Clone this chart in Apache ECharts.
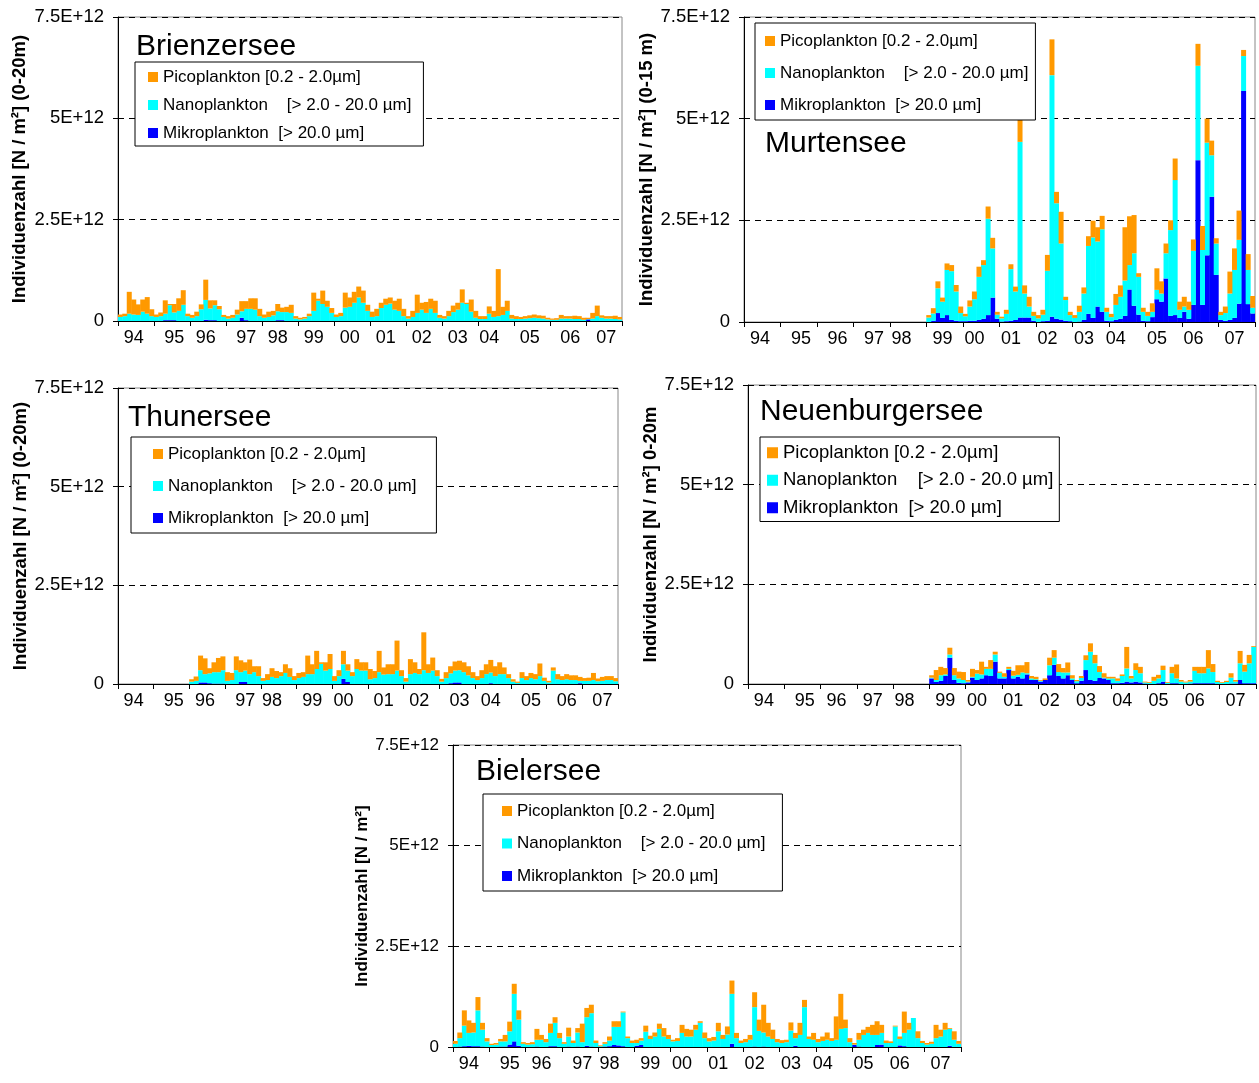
<!DOCTYPE html>
<html>
<head>
<meta charset="utf-8">
<script src="https://cdn.jsdelivr.net/npm/echarts@6/dist/echarts.min.js"></script>
<style>
  html, body { margin: 0; padding: 0; background: #fff; }
  #chart { width: 1259px; height: 1083px; }
</style>
</head>
<body>
<div id="chart"></div>
<script>
// 14 years (94-07), 8 samples per axis division -> 112 bars per lake
const NBARS = 112;
const years = ["94", "95", "96", "97", "98", "99", "00", "01", "02", "03", "04", "05", "06", "07"];

// index of the bar carrying each year label
const brienzYearIdx = [3, 12, 19, 28, 35, 43, 51, 59, 67, 75, 82, 91, 100, 108];
const murtenYearIdx = [3, 12, 20, 28, 34, 43, 50, 58, 66, 74, 81, 90, 98, 107];
const thunYearIdx = [3, 12, 19, 28, 34, 43, 50, 59, 67, 76, 83, 92, 100, 108];
const neuenburgYearIdx = [3, 12, 19, 27, 34, 43, 50, 58, 66, 74, 82, 90, 98, 107];
const bielYearIdx = [3, 12, 19, 28, 34, 43, 50, 58, 66, 74, 81, 90, 98, 107];

// values in 1E+12 N / m2
const brienzPico = [
  .06, .06, .54, .37, .26, .30, .41, .17,
  .06, .09, .33, .03, .21, .31, .36, .06,
  .07, .11, .12, .50, .20, .12, .08, .05,
  .06, .07, .12, .25, .19, .26, .28, .18,
  .08, .13, .11, .18, .11, .13, .20, .06,
  .04, .04, .06, .45, .05, .33, .15, .12,
  .06, .08, .37, .23, .27, .27, .30, .15,
  .13, .18, .13, .15, .15, .22, .30, .18,
  .06, .15, .45, .17, .27, .25, .30, .07,
  .06, .13, .16, .17, .33, .03, .30, .17,
  .07, .07, .18, .15, 1.16, .20, .25, .09,
  .07, .05, .06, .07, .08, .07, .07, .04,
  .03, .04, .09, .06, .06, .08, .07, .05,
  .03, .14, .26, .06, .06, .06, .08, .06
];
const brienzNano = [
  .10, .12, .18, .16, .15, .23, .18, .12,
  .10, .12, .16, .37, .19, .25, .40, .12,
  .08, .12, .29, .49, .29, .37, .29, .10,
  .06, .08, .16, .16, .28, .30, .28, .12,
  .08, .10, .14, .22, .20, .22, .20, .06,
  .04, .06, .12, .25, .50, .42, .35, .20,
  .10, .12, .33, .35, .45, .58, .45, .25,
  .10, .12, .32, .40, .43, .28, .25, .12,
  .06, .10, .20, .28, .20, .30, .20, .08,
  .06, .12, .22, .28, .45, .42, .23, .08,
  .05, .05, .18, .10, .12, .15, .25, .06,
  .05, .05, .06, .07, .08, .07, .06, .04,
  .03, .03, .06, .06, .06, .05, .05, .03,
  .01, .06, .12, .08, .06, .06, .05, .04
];
const brienzMikro = [
  0, 0, 0, 0, 0, 0, 0, 0,
  0, 0, .02, .02, .02, 0, 0, 0,
  0, 0, 0, .03, .02, .02, 0, 0,
  0, 0, 0, .08, .02, 0, 0, 0,
  0, 0, 0, .02, .02, 0, 0, 0,
  0, 0, 0, 0, 0, 0, 0, 0,
  0, 0, 0, 0, 0, 0, 0, 0,
  0, 0, 0, 0, 0, 0, 0, 0,
  0, 0, 0, 0, 0, 0, 0, 0,
  0, 0, 0, 0, 0, 0, 0, 0,
  0, 0, 0, 0, 0, 0, 0, 0,
  0, 0, 0, 0, 0, 0, 0, 0,
  0, 0, 0, 0, 0, 0, 0, 0,
  .04, 0, 0, 0, 0, 0, 0, 0
];

// Murtensee: sampling from 1999 on (bar 40)
const murtenStart = 40;
const murtenPico = [
  .06, .13, .17, .10, .16, .15, .16, .16,
  .06, .15, .19, .25, .12, .30, .26, .07,
  .04, .10, .12, .12, .54, .20, .24, .10,
  .08, .12, .39, .88, .28, .78, .08, .08,
  .07, .15, .15, .24, .41, .35, .33, .10,
  .08, .27, .28, 1.31, 1.20, .94, .09, .10,
  .10, .21, .53, .30, .24, .24, .53, .20,
  .24, .20, .28, .54, .59, .59, .36, .13,
  .08, .16, .54, .53, .72, .15, .39, .29
];
const murtenNano = [
  .11, .18, .61, .40, 1.11, 1.20, .72, .20,
  .12, .35, .53, 1.06, 1.32, 2.37, 1.21, .10,
  .08, .18, 1.27, .70, 4.32, .59, .27, .12,
  .09, .16, 1.23, 5.94, 2.84, 1.87, .51, .15,
  .10, .24, .65, 1.67, 1.98, 1.60, 2.03, .22,
  .10, .37, .54, .87, .60, 1.29, .93, .22,
  .13, .13, .23, .20, .62, 2.11, 3.32, .20,
  .13, .22, 1.33, 2.32, 1.35, 2.77, 1.02, .77,
  .12, .19, .65, 1.18, 1.57, .86, .84, .14
];
const murtenMikro = [
  0, .03, .22, .10, .17, .05, .03, .02,
  .02, .03, .03, .05, .08, .17, .60, .08,
  .01, .02, .03, .05, .11, .11, .11, .03,
  0, .02, .03, .13, .08, .06, .03, .02,
  0, .01, .05, .20, .10, .38, .25, .03,
  .02, .05, .08, .15, .80, .40, .18, .03,
  .02, .12, .56, .50, 1.07, .15, .17, .10,
  .25, .08, .42, 3.98, .42, 1.64, 3.08, 1.16,
  .05, .03, .05, .10, .45, 5.68, .44, .21
];

// Thunersee: sampling from 1996 on (bar 16)
const thunStart = 16;
const thunPico = [
  .06, .11, .37, .40, .13, .25, .36, .35,
  .22, .18, .35, .30, .21, .37, .15, .25,
  .07, .15, .22, .18, .10, .22, .22, .10,
  .13, .12, .47, .25, .46, .04, .21, .38,
  .12, .15, .34, .16, .10, .25, .21, .21,
  .26, .18, .54, .18, .25, .25, .76, .15,
  .09, .38, .27, .13, .96, .22, .33, .15,
  .07, .15, .18, .23, .24, .25, .23, .15,
  .10, .20, .25, .32, .25, .30, .17, .10,
  .06, .03, .15, .10, .13, .13, .32, .08,
  .04, .08, .13, .10, .13, .12, .12, .10,
  .07, .08, .18, .07, .10, .10, .10, .08
];
const thunNano = [
  .06, .08, .31, .21, .25, .29, .29, .34,
  .08, .10, .35, .25, .29, .25, .30, .20,
  .08, .10, .18, .15, .20, .28, .18, .10,
  .15, .18, .25, .25, .38, .51, .34, .38,
  .08, .20, .37, .29, .20, .38, .34, .34,
  .12, .15, .30, .24, .25, .25, .34, .20,
  .06, .25, .28, .25, .35, .28, .34, .20,
  .06, .15, .25, .30, .31, .30, .22, .15,
  .10, .15, .25, .27, .20, .25, .25, .15,
  .06, .03, .15, .10, .15, .12, .20, .08,
  .04, .34, .12, .10, .12, .10, .10, .06,
  .08, .08, .10, .07, .08, .10, .10, .07
];
const thunMikro = [
  0, 0, .04, .04, .02, .01, .01, .01,
  0, 0, 0, .05, .05, 0, 0, 0,
  0, 0, 0, 0, 0, 0, 0, 0,
  0, 0, 0, 0, 0, 0, 0, 0,
  0, 0, .13, .05, 0, 0, 0, 0,
  0, 0, 0, 0, 0, 0, 0, 0,
  0, 0, 0, 0, 0, 0, 0, 0,
  0, 0, .02, .04, .04, 0, 0, 0,
  0, 0, 0, .02, 0, 0, 0, 0,
  0, 0, 0, 0, 0, 0, 0, 0,
  0, 0, 0, 0, 0, 0, 0, .02,
  0, 0, 0, 0, 0, 0, 0, 0
];

// Neuenburgersee: sampling from 1999 on (bar 40)
const neuenburgStart = 40;
const neuenburgPico = [
  .06, .25, .21, .16, .17, .18, .17, .20,
  .04, .20, .09, .32, .05, .22, .07, .03,
  .09, .05, .12, .24, .18, .28, .06, .06,
  .02, .04, .19, .19, .20, .11, .25, .08,
  .03, .05, .12, .21, .21, .15, .11, .04,
  .04, .06, .04, .54, .06, .17, .16, .02,
  .02, .10, .09, .11, .02, .16, .35, .04,
  .02, .04, .10, .16, .16, .46, .20, .03,
  .02, .03, .11, .04, .31, .17, .21, .02
];
const neuenburgNano = [
  .02, .05, .14, .04, .08, .12, .11, .08,
  .02, .02, .16, .10, .16, .18, .18, .14,
  .04, .03, .07, .05, .15, .03, .04, .02,
  .02, 0, .25, .18, .10, .15, .07, .04,
  .05, .07, .25, .71, .44, .15, .02, .04,
  .12, .06, .17, .33, .10, .29, .23, .03,
  .03, .08, .12, .29, .03, .25, .12, .06,
  .04, .05, .31, .25, .25, .37, .28, .05,
  .03, .05, .15, .05, .42, .29, .50, .91
];
const neuenburgMikro = [
  .14, .05, .08, .20, .66, .10, .03, .02,
  .04, .16, .10, .14, .22, .20, .56, .14,
  .14, .35, .14, .18, .14, .24, .10, .10,
  .06, .10, .22, .48, .20, .14, .22, .10,
  .02, .08, .35, .10, .08, .15, .14, .10,
  .02, .02, .03, .06, .04, .06, .04, .01,
  0, 0, .02, .06, 0, .02, .02, 0,
  0, .01, .02, .02, .02, .02, .02, 0,
  0, 0, .01, .01, .10, .02, .02, .02
];

const bielPico = [
  .07, .14, .38, .31, .24, .33, .17, .08,
  .03, .04, .06, .16, .24, .25, .23, .04,
  .04, .05, .27, .12, .08, .23, .14, .13,
  .04, .22, .06, .11, .46, .23, .21, .06,
  .02, .04, .10, .14, .14, .02, .04, .06,
  .08, .06, .15, .08, .10, .13, .21, .10,
  .04, .07, .20, .19, .17, .12, .04, .14,
  .08, .09, .21, .10, .20, .33, .13, .06,
  .08, .12, .37, .28, .69, .34, .23, .08,
  .07, .06, .20, .13, .30, .18, .06, .17,
  .08, .11, .18, .07, .58, .87, .21, .10,
  .04, .17, .13, .15, .25, .34, .20, .06,
  .04, .02, .06, .53, .17, 0, .17, .05,
  .04, .05, .33, .17, .17, .02, .21, .07
];
const bielNano = [
  .08, .21, .51, .32, .34, .89, .42, .14,
  .05, .06, .13, .13, .33, 1.18, .65, .08,
  .06, .07, .17, .18, .12, .33, .58, .22,
  .08, .25, .10, .35, .12, .71, .83, .10,
  .02, .07, .14, .45, .46, .84, .22, .10,
  .07, .11, .38, .20, .26, .45, .26, .20,
  .14, .15, .35, .26, .26, .43, .60, .22,
  .14, .16, .39, .20, .31, 1.24, .22, .10,
  .12, .18, .98, .40, .35, .26, .20, .12,
  .10, .12, .41, .19, .30, .99, .20, .18,
  .12, .15, .18, .15, .18, .45, .47, .12,
  .01, .17, .30, .35, .30, .25, .29, .10,
  .10, .51, .16, .33, .43, .72, .22, .10,
  .06, .08, .22, .26, .43, .42, .18, .08
];
const bielMikro = [
  0, .01, .02, .03, .02, .02, .01, 0,
  0, 0, .01, .01, .06, .14, .03, 0,
  0, 0, .01, 0, 0, .02, .02, 0,
  0, .01, 0, .01, 0, .03, .01, 0,
  0, .01, .02, .05, .04, .02, 0, 0,
  .03, .05, 0, 0, 0, 0, 0, 0,
  0, 0, 0, 0, 0, 0, 0, 0,
  0, 0, 0, 0, 0, .08, 0, 0,
  0, 0, .01, 0, .01, 0, 0, 0,
  0, 0, 0, .03, 0, 0, 0, 0,
  0, 0, 0, 0, 0, 0, 0, 0,
  .05, .01, 0, 0, 0, .05, .06, 0,
  0, 0, .04, .02, 0, 0, 0, 0,
  0, 0, 0, 0, 0, .03, 0, 0
];

const legendText = {
  Picoplankton: "Picoplankton [0.2 - 2.0µm]",
  Nanoplankton: "Nanoplankton    [> 2.0 - 20.0 µm]",
  Mikroplankton: "Mikroplankton  [> 20.0 µm]"
};
const colors = { Picoplankton: "#FF9900", Nanoplankton: "#00FFFF", Mikroplankton: "#0000FF" };
const font = "'Liberation Sans', Arial, sans-serif";

const panels = [
  {
    title: "Brienzersee", grid: [118, 17, 504, 304], titlePos: [136, 32],
    legend: { left: 135, top: 62, gap: 10, fs: 17, icon: 10, pad: [6, 12, 4, 13] },
    yName: "Individuenzahl [N / m²] (0-20m)", nameGap: 89, nameSize: 18.5, tickSize: 18.5,
    pico: brienzPico, nano: brienzNano, mikro: brienzMikro, start: 0, yearIdx: brienzYearIdx
  },
  {
    title: "Murtensee", grid: [744, 17, 511, 305], titlePos: [765, 129],
    legend: { left: 755, top: 23, gap: 14, fs: 17, icon: 10, pad: [9, 7, 6, 10] },
    yName: "Individuenzahl [N / m²] (0-15 m)", nameGap: 84, nameSize: 18.5, tickSize: 18.5,
    pico: murtenPico, nano: murtenNano, mikro: murtenMikro, start: murtenStart, yearIdx: murtenYearIdx
  },
  {
    title: "Thunersee", grid: [118, 388, 500, 296], titlePos: [128, 403],
    legend: { left: 131, top: 437, gap: 14, fs: 17, icon: 10, pad: [8, 20, 6, 22] },
    yName: "Individuenzahl [N / m²] (0-20m)", nameGap: 88, nameSize: 18.5, tickSize: 18.5,
    pico: thunPico, nano: thunNano, mikro: thunMikro, start: thunStart, yearIdx: thunYearIdx
  },
  {
    title: "Neuenburgersee", grid: [748, 385, 508, 299], titlePos: [760, 397],
    legend: { left: 760, top: 437, gap: 8, fs: 18.5, icon: 11, pad: [6, 6, 4, 7] },
    yName: "Individuenzahl [N / m²] 0-20m", nameGap: 86, nameSize: 18.5, tickSize: 18.5,
    pico: neuenburgPico, nano: neuenburgNano, mikro: neuenburgMikro, start: neuenburgStart, yearIdx: neuenburgYearIdx
  },
  {
    title: "Bielersee", grid: [453, 745, 508, 302], titlePos: [476, 757],
    legend: { left: 483, top: 794, gap: 14.5, fs: 17, icon: 10, pad: [8, 17, 6, 19] },
    yName: "Individuenzahl [N / m²]", nameGap: 80, nameSize: 17, tickSize: 17,
    pico: bielPico, nano: bielNano, mikro: bielMikro, start: 0, yearIdx: bielYearIdx
  }
];

function place(values, start) {
  const out = [];
  for (let i = 0; i < NBARS; i++) out.push(null);
  values.forEach((v, i) => { out[start + i] = v; });
  return out;
}

const cats = [];
for (let i = 0; i < NBARS; i++) cats.push(String(i));

const option = {
  backgroundColor: "#fff",
  animation: false,
  textStyle: { fontFamily: font },
  title: [], legend: [], grid: [], xAxis: [], yAxis: [], series: []
};

panels.forEach((p, k) => {
  const labelMap = {};
  p.yearIdx.forEach((idx, j) => { labelMap[idx] = years[j]; });

  option.title.push({
    text: p.title, left: p.titlePos[0], top: p.titlePos[1], padding: 0,
    textStyle: { fontSize: 30, fontWeight: "normal", color: "#000", fontFamily: font }
  });
  option.legend.push({
    orient: "vertical", left: p.legend.left, top: p.legend.top,
    padding: p.legend.pad, itemGap: p.legend.gap,
    itemWidth: p.legend.icon, itemHeight: p.legend.icon, icon: "rect",
    backgroundColor: "#fff", borderColor: "#000", borderWidth: 1,
    textStyle: { fontSize: p.legend.fs, lineHeight: p.legend.fs + 1, color: "#000", fontFamily: font },
    formatter: (n) => legendText[n],
    data: ["Picoplankton", "Nanoplankton", "Mikroplankton"],
    selectedMode: false
  });
  option.grid.push({
    left: p.grid[0], top: p.grid[1], width: p.grid[2], height: p.grid[3],
    show: true, borderColor: "#888", borderWidth: 1,
    containLabel: false, outerBoundsMode: "none"
  });
  option.xAxis.push({
    type: "category", gridIndex: k, data: cats,
    axisLine: { lineStyle: { color: "#000", width: 1 } },
    axisTick: { show: true, interval: (i) => i % 8 === 0, length: 5, lineStyle: { color: "#000" } },
    axisLabel: {
      interval: 0, fontSize: 18, color: "#000", margin: 8, fontFamily: font,
      formatter: (v, i) => labelMap[i] || ""
    },
    splitLine: { show: false }
  });
  option.yAxis.push({
    type: "value", gridIndex: k, min: 0, max: 7.5, interval: 2.5,
    name: p.yName, nameLocation: "middle", nameGap: p.nameGap, nameRotate: 90,
    nameTextStyle: { fontSize: p.nameSize, fontWeight: "bold", color: "#000", fontFamily: font },
    axisLine: { show: true, lineStyle: { color: "#000", width: 1 } },
    axisTick: { show: true, length: 5, lineStyle: { color: "#000" } },
    axisLabel: {
      fontSize: p.tickSize, color: "#000", margin: 14, fontFamily: font,
      formatter: (v) => (v === 0 ? "0" : v + "E+12")
    },
    splitLine: { show: true, lineStyle: { color: "#000", width: 1, type: [6, 5] } }
  });

  const parts = [["Mikroplankton", p.mikro], ["Nanoplankton", p.nano], ["Picoplankton", p.pico]];
  parts.forEach(([name, vals]) => {
    option.series.push({
      name: name, type: "bar", stack: "lake" + k,
      xAxisIndex: k, yAxisIndex: k,
      barWidth: 5,
      itemStyle: { color: colors[name] },
      emphasis: { disabled: true },
      data: place(vals, p.start)
    });
  });
});

const chart = echarts.init(document.getElementById("chart"));
chart.setOption(option);
window.addEventListener("resize", () => chart.resize());
</script>
</body>
</html>
